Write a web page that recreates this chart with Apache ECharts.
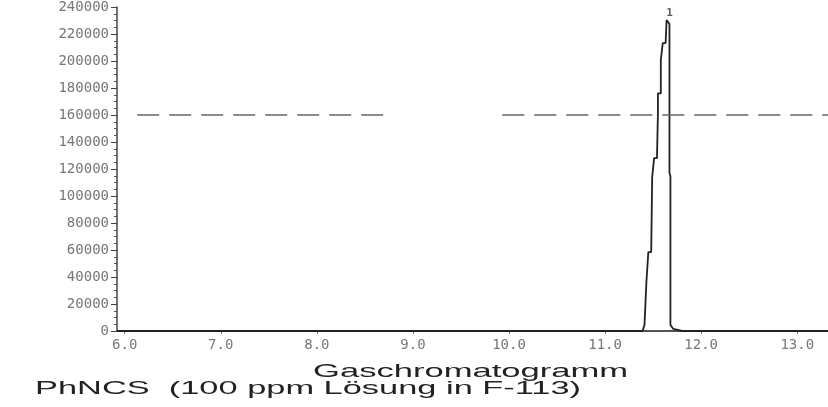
<!DOCTYPE html>
<html>
<head>
<meta charset="utf-8">
<script src="https://cdn.jsdelivr.net/npm/echarts@6/dist/echarts.min.js"></script>
<style>
  html, body { margin: 0; padding: 0; background: #fff; }
  #chart { width: 828px; height: 407px; }
</style>
</head>
<body>
<div id="chart"></div>
<script>
// Retention time (min) of the trace points
const retentionTimes = [5.92, 11.39, 11.41, 11.43, 11.45, 11.45, 11.48, 11.49, 11.50, 11.51, 11.54, 11.55, 11.55, 11.58, 11.58, 11.60, 11.60, 11.63, 11.64, 11.66, 11.67, 11.67, 11.68, 11.68, 11.71, 11.80, 13.32];
// Detector signal at those times
const signal = [0, 0, 4400, 36300, 36300, 58500, 58500, 114000, 114000, 128000, 128000, 161500, 176000, 176000, 200700, 200700, 213300, 213300, 230400, 230400, 227400, 117000, 114800, 4400, 1500, 0, 0];
// Index of the peak maximum (labelled "1")
const peakIndex = 18;
const peakLabel = '1';

const xTickLabels = [6, 7, 8, 9, 10, 11, 12, 13];
const yTickValues = [0, 20000, 40000, 60000, 80000, 100000, 120000, 140000, 160000, 180000, 200000, 220000, 240000];

// dashed reference line
const refLevel = 160000;
const refSegments = [[6.13, 8.69], [9.93, 13.32]];

const titleMain = 'Gaschromatogramm';
const titleSub = 'PhNCS  (100 ppm Lösung in F-113)';

const traceData = retentionTimes.map((t, i) => [t, signal[i]]);

const chart = echarts.init(document.getElementById('chart'), null, { renderer: 'canvas' });
chart.setOption({
  animation: false,
  backgroundColor: '#ffffff',
  grid: { left: 117, right: 0, top: 7, bottom: 76, containLabel: false },
  xAxis: {
    type: 'value',
    min: 5.92,
    max: 13.32,
    splitLine: { show: false },
    axisLine: { show: true, onZero: false, lineStyle: { color: '#555', width: 2 } },
    axisTick: { show: true, customValues: xTickLabels, length: 3, lineStyle: { color: '#777' } },
    axisLabel: {
      customValues: xTickLabels,
      formatter: v => v.toFixed(1),
      fontFamily: 'DejaVu Sans Mono', fontSize: 14, color: '#777', margin: 7
    }
  },
  yAxis: {
    type: 'value',
    min: yTickValues[0],
    max: yTickValues[yTickValues.length - 1],
    interval: 20000,
    splitLine: { show: false },
    axisLine: { show: true, lineStyle: { color: '#444', width: 1.5 } },
    axisTick: { show: true, length: 6, lineStyle: { color: '#444' } },
    minorTick: { show: true, splitNumber: 4, length: 3, lineStyle: { color: '#555' } },
    axisLabel: {
      formatter: v => String(v),
      fontFamily: 'DejaVu Sans Mono', fontSize: 14, color: '#777', margin: 8
    }
  },
  series: [{
    type: 'line',
    data: traceData,
    showSymbol: false,
    symbol: 'none',
    lineStyle: { color: '#222', width: 1.8 },
    markLine: {
      silent: true,
      symbol: 'none',
      label: { show: false },
      lineStyle: { color: '#666', width: 1.5, type: [22, 10] },
      data: refSegments.map(s => [{ coord: [s[0], refLevel] }, { coord: [s[1], refLevel] }])
    }
  }, {
    type: 'scatter',
    data: [traceData[peakIndex]],
    symbolSize: 1,
    itemStyle: { color: 'rgba(0,0,0,0)' },
    silent: true,
    label: {
      show: true, formatter: peakLabel, position: 'top', distance: 1, offset: [3, 0],
      fontFamily: 'DejaVu Sans Mono', fontSize: 11, color: '#333', fontWeight: 'bold'
    }
  }],
  graphic: [
    {
      type: 'text', x: 313, y: 362, scaleX: 1.82,
      style: { text: titleMain, font: '19px "Liberation Sans", Arial, sans-serif', fill: '#222', textVerticalAlign: 'top' }
    },
    {
      type: 'text', x: 35, y: 379, scaleX: 1.81,
      style: { text: titleSub, font: '19px "Liberation Sans", Arial, sans-serif', fill: '#222', textVerticalAlign: 'top' }
    }
  ]
});
</script>
</body>
</html>
